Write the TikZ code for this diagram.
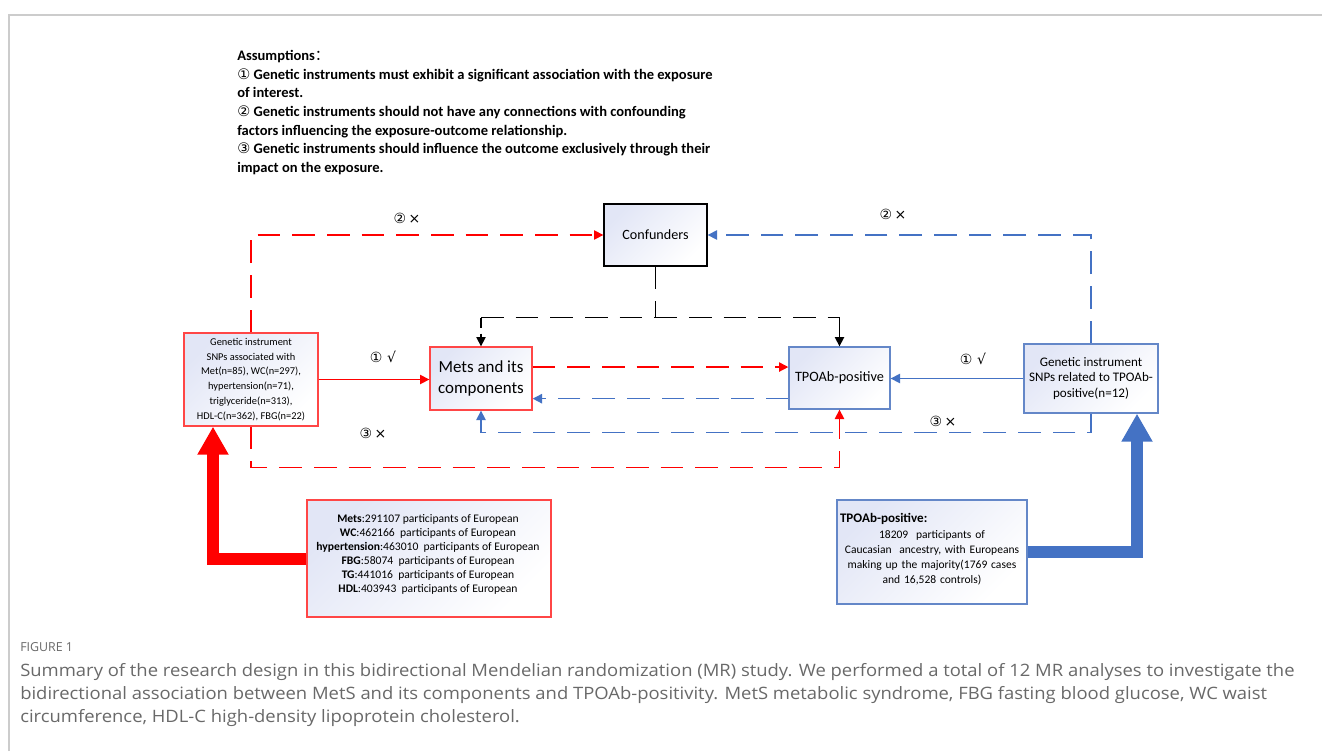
\documentclass[tikz,border=0pt]{standalone}
\usepackage{fontspec}
\setmainfont{Carlito}
\newfontfamily\sym{DejaVu Sans}
\newfontfamily\capfont{Open Sans}
\newfontfamily\cjk{Noto Sans CJK SC}
\usetikzlibrary{arrows.meta,calc}
\definecolor{myred}{RGB}{255,0,0}
\definecolor{myblue}{RGB}{68,114,196}
\definecolor{redborder}{RGB}{255,70,70}
\definecolor{blueborder}{RGB}{100,135,200}
\definecolor{lav}{RGB}{226,230,246}
\definecolor{framegray}{RGB}{204,204,204}
\definecolor{capgray}{RGB}{105,105,105}
\tikzset{
  boxbase/.style={draw, line width=1pt, top color=lav, bottom color=white, shading angle=45, inner sep=0pt, align=center},
  redbox/.style={boxbase, draw=redborder},
  bluebox/.style={boxbase, draw=blueborder},
  blackbox/.style={boxbase, draw=black},
  dashline/.style={line width=1.1pt, dash pattern=on 17pt off 9pt},
  tip/.style={-{Triangle[length=7pt,width=7pt]}},
  lbl/.style={font=\sym\fontsize{10.5}{12}\selectfont, inner sep=0pt},
  captext/.style={anchor=west, inner sep=0pt, text=capgray, font=\capfont\fontsize{12.8}{15}\selectfont}
}
\begin{document}
\begin{tikzpicture}[x=0.75pt,y=-0.75pt]
\useasboundingbox (0,0) rectangle (1322,751);
\fill[white] (0,0) rectangle (1322,751);
\draw[framegray, line width=1.4pt] (9,751) -- (9,15) -- (1322,15);

% assumptions
\node[anchor=north west, align=left, inner sep=0pt, font=\bfseries\fontsize{10.9}{14}\selectfont] (A) at (237,50)
{Assumptions{\cjk\mdseries ：}\\
{\sym\mdseries ①} Genetic instruments must exhibit a significant association with the exposure\\
of interest.\\
{\sym\mdseries ②} Genetic instruments should not have any connections with confounding\\
factors influencing the exposure-outcome relationship.\\
{\sym\mdseries ③} Genetic instruments should influence the outcome exclusively through their\\
impact on the exposure.};

% boxes
\node[blackbox, minimum width=77.25pt, minimum height=46.5pt, font=\fontsize{10.6}{12}\selectfont] (C) at (655.5,235) {Confunders};
\node[redbox, minimum width=100.5pt, minimum height=69.75pt, font=\fontsize{7.8}{11.1}\selectfont] (L) at (251,379.5)
{Genetic instrument\\SNPs associated with\\Met(n=85), WC(n=297),\\hypertension(n=71),\\triglyceride(n=313),\\HDL-C(n=362), FBG(n=22)};
\node[redbox, minimum width=76.5pt, minimum height=47.25pt, font=\fontsize{12.7}{16}\selectfont] (M) at (481,378.5) {Mets and its\\components};
\node[bluebox, minimum width=75.75pt, minimum height=46.5pt, font=\fontsize{10.7}{12}\selectfont] (T) at (839.5,378) {TPOAb-positive};
\node[bluebox, minimum width=100.5pt, minimum height=51.75pt, font=\fontsize{9.8}{11.7}\selectfont] (R) at (1091,378.5)
{Genetic instrument\\SNPs related to TPOAb-\\positive(n=12)};
\node[redbox, minimum width=183pt, minimum height=87.75pt] (BL) at (429,558.5) {};
\node[inner sep=0pt, align=center, font=\fontsize{8.7}{10.5}\selectfont] (BLt) at (428,554.5)
{\textbf{Mets}:291107 participants of European\\
\textbf{WC}:462166\ \ participants of European\\
\textbf{hypertension}:463010\ \ participants of European\\
\textbf{FBG}:58074\ \ participants of European\\
\textbf{TG}:441016\ \ participants of European\\
\textbf{HDL}:403943\ \ participants of European};
\node[bluebox, minimum width=142.5pt, minimum height=78pt] (BR) at (932,552) {};
\node[inner sep=0pt, align=center, text width=138pt, font=\fontsize{8.65}{11.25}\selectfont] (BRt) at (932,549)
{{\fontsize{9.8}{11.25}\selectfont\textbf{TPOAb-positive:}}\hfill\mbox{}\\[1pt]
18209\ \ participants of\\
Caucasian\ \ ancestry, with Europeans\\
making up the majority(1769 cases\\
and 16,528 controls)};

% red connectors
\draw[myred, dashline, tip] (L.north) |- (C.west);
\draw[myred, line width=1.1pt, tip] (L.east) -- (L.east -| M.west);
\draw[myred, dashline, tip] (L.south) -- ++(0,41) -| (T.south);
\draw[myred, dashline, tip] ([yshift=8.6pt]M.east) -- ([yshift=8.6pt]M.east -| T.west);

% blue connectors
\draw[myblue, dashline, tip] ([yshift=-15.5pt]T.west) -- ([yshift=-15.5pt]T.west -| M.east);
\draw[myblue, dashline, tip] (R.north) |- (C.east);
\draw[myblue, line width=1.1pt, tip] (R.west) -- (R.west -| T.east);
\draw[myblue, dashline, tip] (R.south) -- ++(0,19) -| (M.south);

% black connectors
\coordinate (J) at ($(C.south)+(0,51)$);
\draw[black, dashline] (C.south) -- (J);
\draw[black, dashline] (J -| M.north) -- (J -| T.north);
\draw[black, line width=1.1pt, dash pattern=on 8pt off 4pt, tip] (J -| M.north) -- (M.north);
\draw[black, line width=1.1pt, tip] (J -| T.north) -- (T.north);

% thick arrows
\draw[myred, line width=9pt, -{Triangle[length=21pt,width=22pt]}] (BL.west) -| ([xshift=-28.5pt]L.south);
\draw[myblue, line width=9pt, -{Triangle[length=21pt,width=22pt]}] (BR.east) -| ([xshift=34.5pt]R.south);

% labels
\node[lbl] (l2a) at (407,218) {②\,×};
\node[lbl] (l1a) at (383,357) {①\,\,√};
\node[lbl] (l3a) at (373,433) {③\,×};
\node[lbl] (l2b) at (893,214) {②\,×};
\node[lbl] (l1b) at (973,359) {①\,\,√};
\node[lbl] (l3b) at (943,421) {③\,×};

% caption
\node[captext, font=\capfont\fontsize{9.3}{10}\selectfont] (F) at (20,647) {FIGURE 1};
\node[captext] (c1) at (20,672) {\scalebox{1.08}[1]{Summary of the research design in this bidirectional Mendelian randomization (MR) study. We performed a total of 12 MR analyses to investigate the}};
\node[captext] (c2) at (20,695) {\scalebox{1.08}[1]{bidirectional association between MetS and its components and TPOAb-positivity. MetS metabolic syndrome, FBG fasting blood glucose, WC waist}};
\node[captext] (c3) at (20,718) {\scalebox{1.08}[1]{circumference, HDL-C high-density lipoprotein cholesterol.}};
\end{tikzpicture}
\end{document}
